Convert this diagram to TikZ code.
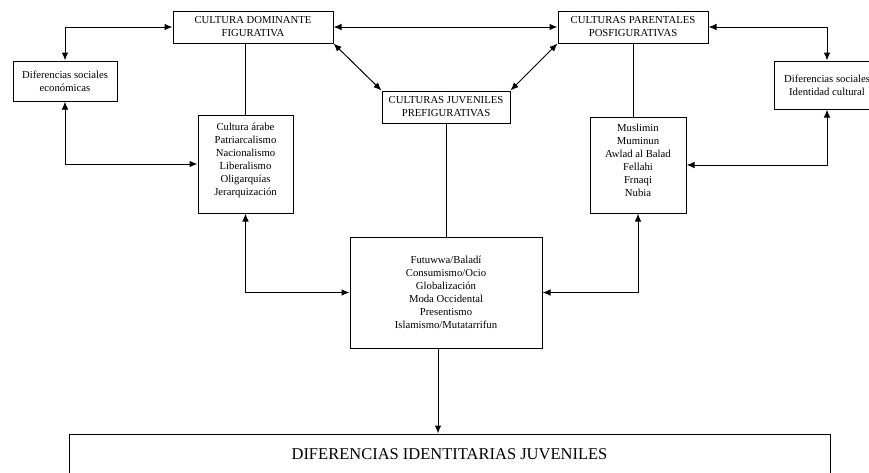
\documentclass[tikz,border=0pt]{standalone}
\usepackage{fontspec}
\setmainfont{Liberation Serif}
\usepackage{tikz}
\usetikzlibrary{arrows.meta}
\usetikzlibrary{positioning}

\tikzset{
  caja/.style={draw, line width=1pt, align=center, inner sep=0pt,
    font=\fontsize{10.7}{13}\selectfont},
  punta/.tip={Latex[length=8pt, width=6.5pt]},
  flecha/.style={line width=1pt, punta-punta},
  linea/.style={line width=1pt}
}

\begin{document}
\begin{tikzpicture}[x=1pt, y=-1pt]
    \useasboundingbox (0,0) rectangle (869,472);
    % culturas
    \node[caja, minimum width=160, minimum height=32] (dom) at (253,27)
      {CULTURA DOMINANTE\\FIGURATIVA};
    \node[caja, minimum width=150, minimum height=32] (par) at (633,27)
      {CULTURAS PARENTALES\\POSFIGURATIVAS};
    \node[caja, minimum width=128, minimum height=32] (juv) at (446,107)
      {CULTURAS JUVENILES\\PREFIGURATIVAS};
    % diferencias sociales
    \node[caja, minimum width=104, minimum height=40] (socL) at (65,81)
      {Diferencias sociales\\econ\'omicas};
    \node[caja, minimum width=106, minimum height=48] (socR) at (827,85)
      {Diferencias sociales\\Identidad cultural};
    % listas
    \node[caja, minimum width=95, minimum height=98] (listL) at (245.5,164)
      {Cultura \'arabe\\Patriarcalismo\\Nacionalismo\\Liberalismo\\Oligarqu\'ias\\Jerarquizaci\'on\\[-3pt]};
    \node[caja, minimum width=96, minimum height=96] (listR) at (638,165)
      {Muslimin\\Muminun\\Awlad al Balad\\Fellahi\\Frnaqi\\Nubia\\[-3pt]};
    \node[caja, minimum width=192, minimum height=111] (fut) at (446,292.5)
      {Futuwwa/Balad\'i\\Consumismo/Ocio\\Globalizaci\'on\\Moda Occidental\\Presentismo\\Islamismo/Mutatarrifun};
    \node[caja, minimum width=761, minimum height=40,
      font=\fontsize{16.5}{18}\selectfont] (idj) at (449.5,454)
      {DIFERENCIAS IDENTITARIAS JUVENILES};

    \draw[flecha] (socL.north) |- (dom.west);
    \draw[flecha] (socL.south) |- (listL.west);
    \draw[linea] (listL.north |- dom.south) -- (listL.north);
    \draw[flecha] (listL.south) |- (fut.west);
    \draw[flecha] (dom.east) -- (par.west);
    \draw[flecha] (dom.south east) -- (juv.north west);
    \draw[flecha] (par.south west) -- (juv.north east);
    \draw[linea] (juv.south) -- (fut.north);
    \draw[flecha] (par.east) -| (socR.north);
    \draw[flecha] (socR.south) |- (listR.east);
    \draw[linea] (par.south) -- (par.south |- listR.north);
    \draw[flecha] (listR.south) |- (fut.east);
    \draw[linea, -punta] ([xshift=-8pt]fut.south) -- ([xshift=-8pt]fut.south |- idj.north);
  \end{tikzpicture}
\end{document}
